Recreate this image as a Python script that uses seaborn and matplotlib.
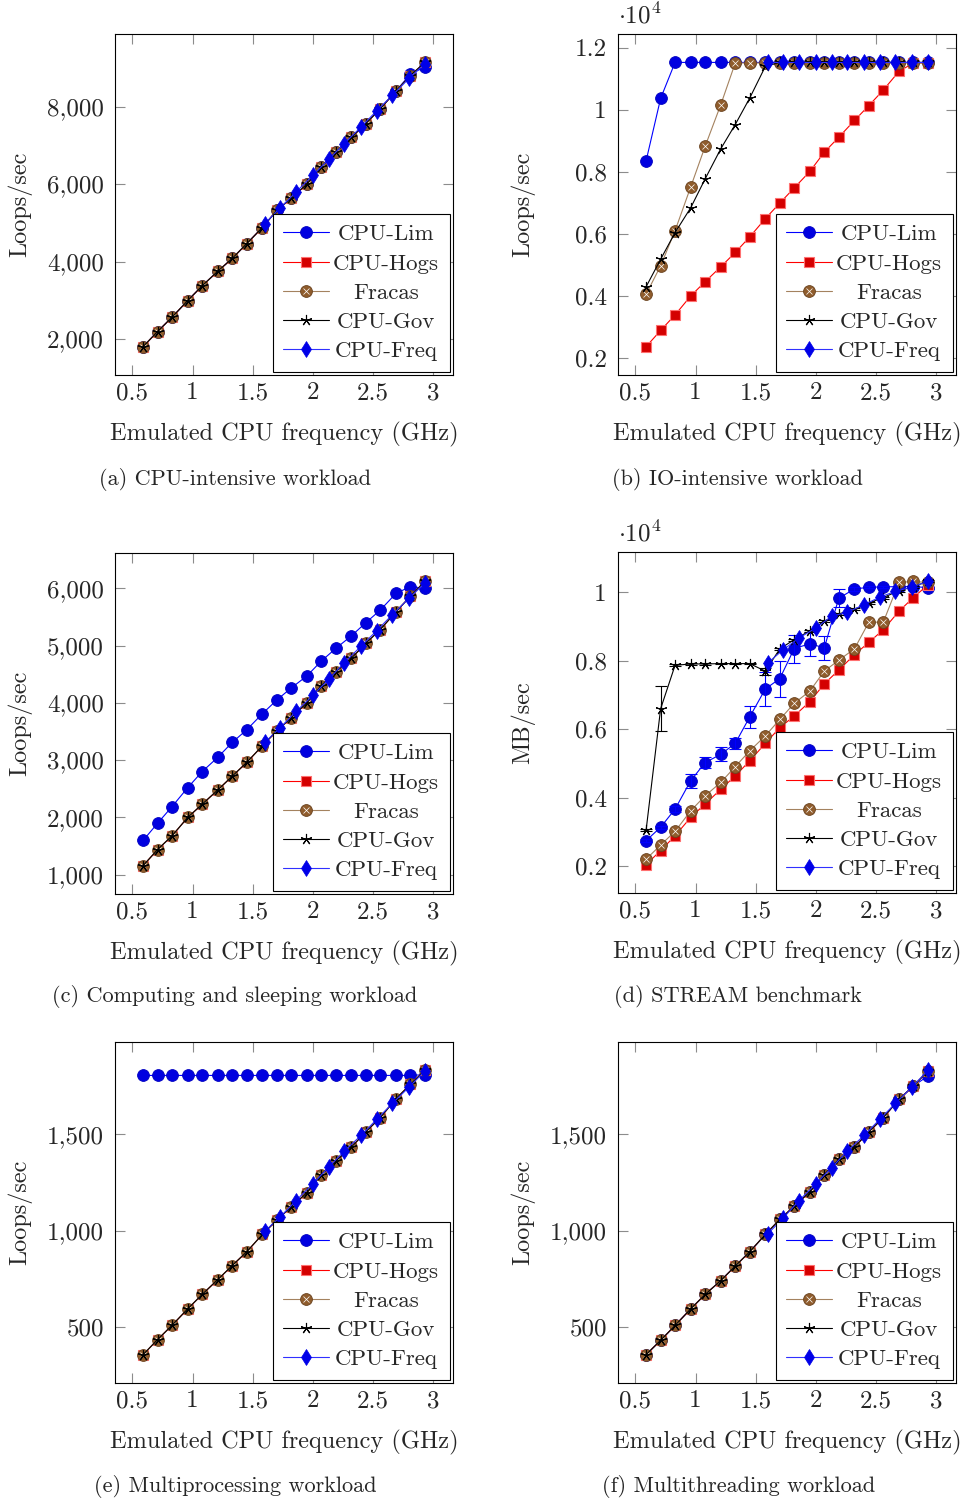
import numpy as np
import pandas as pd
import seaborn as sns
import matplotlib.pyplot as plt
from matplotlib.ticker import FuncFormatter, MultipleLocator
from matplotlib.legend_handler import HandlerTuple

sns.set_style('ticks')
plt.rcParams['font.family'] = ['cmr10', 'DejaVu Serif']
plt.rcParams['mathtext.fontset'] = 'cm'
plt.rcParams['axes.formatter.use_mathtext'] = True
plt.rcParams['axes.unicode_minus'] = False

# x positions (GHz)
freqs = [0.59, 0.71, 0.83, 0.96, 1.08, 1.21, 1.33, 1.45, 1.58, 1.70,
         1.82, 1.95, 2.07, 2.19, 2.32, 2.44, 2.56, 2.69, 2.81, 2.93]
pstates = [1.60, 1.73, 1.86, 2.00, 2.13, 2.26, 2.40, 2.53, 2.66, 2.80, 2.93]

names = ['CPU-Lim', 'CPU-Hogs', 'Fracas', 'CPU-Gov', 'CPU-Freq']

# (a) CPU-intensive
lim_a = [1800, 2190, 2560, 2990, 3370, 3750, 4080, 4460, 4880, 5320,
         5640, 6000, 6450, 6830, 7210, 7570, 7950, 8410, 8850, 9030]
hogs_a = [1800, 2190, 2560, 2990, 3370, 3750, 4080, 4460, 4880, 5320,
          5640, 6000, 6450, 6830, 7210, 7570, 7950, 8410, 8810, 9150]
fracas_a = [1800, 2190, 2560, 2990, 3370, 3750, 4080, 4460, 4880, 5320,
            5640, 6000, 6450, 6830, 7210, 7570, 7950, 8410, 8810, 9150]
gov_a = [1800, 2190, 2560, 2990, 3370, 3750, 4080, 4460, 4880, 5320,
         5640, 6000, 6450, 6830, 7210, 7570, 7950, 8410, 8810, 9150]
freq_a = [4980, 5390, 5800, 6230, 6640, 7050, 7480, 7900, 8300, 8740, 9120]

# (b) IO-intensive
lim_b = [8360, 10360, 11520, 11520, 11520, 11520, 11520, 11520, 11520, 11520,
         11520, 11520, 11520, 11520, 11520, 11520, 11520, 11520, 11520, 11520]
hogs_b = [2370, 2890, 3390, 4000, 4460, 4940, 5400, 5900, 6490, 6990,
          7480, 8010, 8630, 9110, 9650, 10130, 10630, 11230, 11500, 11500]
fracas_b = [4060, 4970, 6100, 7510, 8820, 10160, 11500, 11500, 11500, 11500,
            11500, 11500, 11500, 11500, 11500, 11500, 11500, 11500, 11500, 11500]
gov_b = [4300, 5180, 6040, 6840, 7770, 8740, 9520, 10370, 11390, 11520,
         11520, 11520, 11520, 11520, 11520, 11520, 11520, 11520, 11520, 11520]
freq_b = [11520, 11520, 11520, 11520, 11520, 11520, 11520, 11520, 11520, 11520, 11520]

# (c) computing and sleeping
lim_c = [1600, 1900, 2190, 2520, 2800, 3050, 3310, 3530, 3810, 4050,
         4260, 4470, 4730, 4950, 5170, 5400, 5620, 5910, 6030, 6000]
hogs_c = [1160, 1440, 1680, 2000, 2230, 2480, 2720, 2960, 3250, 3510,
          3740, 4000, 4300, 4540, 4780, 5040, 5280, 5590, 5860, 6120]
fracas_c = [1160, 1440, 1680, 2000, 2230, 2480, 2720, 2960, 3250, 3510,
            3740, 4000, 4300, 4540, 4780, 5040, 5280, 5590, 5860, 6120]
gov_c = [1160, 1440, 1680, 2000, 2230, 2480, 2720, 2960, 3250, 3510,
         3740, 4000, 4300, 4540, 4780, 5040, 5280, 5590, 5860, 6120]
freq_c = [3310, 3570, 3850, 4130, 4410, 4700, 4990, 5260, 5540, 5830, 6090]

# (d) STREAM
lim_d = [2750, 3140, 3670, 4500, 5030, 5270, 5590, 6360, 7180, 7480,
         8360, 8500, 8380, 9830, 10100, 10150, 10160, 10170, 10170, 10140]
lim_d_err = [50, 50, 80, 200, 150, 200, 170, 330, 490, 530,
             410, 350, 350, 260, 50, 30, 30, 30, 30, 30]
hogs_d = [2050, 2460, 2890, 3430, 3820, 4250, 4640, 5080, 5590, 6050,
          6390, 6810, 7330, 7730, 8180, 8540, 8910, 9450, 9850, 10220]
fracas_d = [2210, 2620, 3020, 3620, 4060, 4450, 4910, 5370, 5810, 6290,
            6760, 7120, 7700, 8020, 8350, 9130, 9130, 10290, 10320, 10290]
gov_d = [3070, 6600, 7870, 7910, 7910, 7920, 7920, 7920, 7700, 8350,
         8620, 8880, 9160, 9370, 9510, 9690, 9850, 10050, 10170, 10320]
gov_d_err = [30, 660, 30, 20, 20, 20, 20, 20, 100, 30,
             30, 30, 30, 30, 30, 30, 30, 30, 30, 30]
freq_d = [7940, 8330, 8670, 8960, 9300, 9420, 9640, 9860, 10030, 10160, 10320]

# (e) multiprocessing
lim_e = [1806, 1806, 1806, 1806, 1806, 1806, 1806, 1806, 1806, 1806,
         1806, 1806, 1806, 1806, 1806, 1806, 1806, 1806, 1806, 1810]
hogs_e = [358, 436, 510, 595, 670, 747, 820, 891, 981, 1055,
          1125, 1197, 1292, 1362, 1434, 1514, 1587, 1685, 1760, 1832]
fracas_e = [358, 436, 510, 595, 670, 747, 820, 891, 981, 1055,
            1125, 1197, 1292, 1362, 1434, 1514, 1587, 1685, 1760, 1832]
gov_e = [358, 436, 510, 595, 670, 747, 820, 891, 981, 1055,
         1125, 1197, 1292, 1362, 1434, 1514, 1587, 1685, 1760, 1832]
freq_e = [998, 1073, 1157, 1244, 1330, 1413, 1495, 1578, 1661, 1746, 1829]

# (f) multithreading
lim_f = [358, 432, 509, 595, 670, 742, 817, 891, 981, 1059,
         1128, 1202, 1292, 1370, 1434, 1514, 1587, 1682, 1751, 1803]
hogs_f = [358, 432, 509, 595, 670, 742, 817, 891, 981, 1059,
          1128, 1202, 1292, 1370, 1434, 1514, 1587, 1682, 1751, 1828]
fracas_f = [358, 432, 509, 595, 670, 742, 817, 891, 981, 1059,
            1128, 1202, 1292, 1370, 1434, 1514, 1587, 1682, 1751, 1828]
gov_f = [358, 432, 509, 595, 670, 742, 817, 891, 981, 1059,
         1128, 1202, 1292, 1370, 1434, 1514, 1587, 1682, 1751, 1828]
freq_f = [984, 1067, 1157, 1244, 1327, 1413, 1495, 1578, 1661, 1747, 1832]

W, H = 964, 1501
fig = plt.figure(figsize=(W / 100, H / 100), dpi=100)


def add_axes(left, top):
    return fig.add_axes([left / W, 1 - (top + 341) / H, 338 / W, 341 / H])


def draw(ax, lim, hogs, fracas, gov, freq, lim_err=None, gov_err=None):
    sns.lineplot(x=freqs, y=lim, ax=ax, color='#0000ff', linewidth=0.8,
                 marker='o', markersize=8.5, markerfacecolor='#0000e0',
                 markeredgecolor='#0000c0', markeredgewidth=0.6, legend=False)
    h1 = ax.get_lines()[-1]
    if lim_err is not None:
        ax.errorbar(freqs, lim, yerr=lim_err, fmt='none', ecolor='#0000ff',
                    elinewidth=0.8, capsize=4, capthick=0.8)
    sns.lineplot(x=freqs, y=hogs, ax=ax, color='#ff0000', linewidth=0.8,
                 marker='s', markersize=7.5, markerfacecolor='#d40000',
                 markeredgecolor='#ff7070', markeredgewidth=0.8, legend=False)
    h2 = ax.get_lines()[-1]
    sns.lineplot(x=freqs, y=fracas, ax=ax, color='#a4825f', linewidth=0.8,
                 marker='o', markersize=8.5, markerfacecolor='#8f5c2c',
                 markeredgecolor='#6a4320', markeredgewidth=0.6, legend=False)
    h3 = ax.get_lines()[-1]
    sns.lineplot(x=freqs, y=fracas, ax=ax, color='#5c3a1a', linewidth=0,
                 marker='x', markersize=5, markeredgewidth=0.5, legend=False)
    h3x = ax.get_lines()[-1]
    sns.lineplot(x=freqs, y=gov, ax=ax, color='black', linewidth=0.8,
                 marker=(5, 2, 0), markersize=8, markeredgecolor='black',
                 markeredgewidth=0.8, legend=False)
    h4 = ax.get_lines()[-1]
    if gov_err is not None:
        ax.errorbar(freqs, gov, yerr=gov_err, fmt='none', ecolor='black',
                    elinewidth=0.8, capsize=4, capthick=0.8)
    sns.lineplot(x=pstates, y=freq, ax=ax, color='#3030ff', linewidth=0.8,
                 marker='d', markersize=8, markerfacecolor='#0000e8',
                 markeredgecolor='#0000e8', markeredgewidth=0.5, legend=False)
    h5 = ax.get_lines()[-1]

    ax.margins(0.1)
    ax.set_xlabel('Emulated CPU frequency (GHz)', fontsize=17.5, va='center')
    ax.xaxis.set_label_coords(0.5, -0.175)
    ax.xaxis.set_major_locator(MultipleLocator(0.5))
    ax.xaxis.set_major_formatter(FuncFormatter(lambda v, p: f'{v:g}'))
    ax.tick_params(direction='in', top=True, right=True, length=7, width=0.8,
                   color='#8c8c8c', labelsize=18)
    ax.tick_params(axis='x', pad=5)
    ax.tick_params(axis='y', pad=8)
    for s in ax.spines.values():
        s.set_color('black')
        s.set_linewidth(0.8)
    leg = ax.legend(handles=[h1, h2, (h3, h3x), h4, h5], labels=names,
                    loc='lower right', fontsize=16.5, frameon=True,
                    fancybox=False, edgecolor='black', framealpha=1,
                    borderaxespad=0.15, handlelength=2.0, handletextpad=0.2,
                    labelspacing=0.4, borderpad=0.45,
                    handler_map={tuple: HandlerTuple(ndivide=1)})
    leg.get_frame().set_linewidth(0.8)
    return leg


panels = [
    (115, 34, (lim_a, hogs_a, fracas_a, gov_a, freq_a), 2000, False, 'Loops/sec',
     '(a) CPU-intensive workload', 235, 479),
    (618, 34, (lim_b, hogs_b, fracas_b, gov_b, freq_b), 2000, True, 'Loops/sec',
     '(b) IO-intensive workload', 738, 479),
    (115, 553, (lim_c, hogs_c, fracas_c, gov_c, freq_c), 1000, False, 'Loops/sec',
     '(c) Computing and sleeping workload', 235, 997),
    (618, 552, (lim_d, hogs_d, fracas_d, gov_d, freq_d), 2000, True, 'MB/sec',
     '(d) STREAM benchmark', 738, 997),
    (115, 1042, (lim_e, hogs_e, fracas_e, gov_e, freq_e), 500, False, 'Loops/sec',
     '(e) Multiprocessing workload', 235, 1486),
    (618, 1042, (lim_f, hogs_f, fracas_f, gov_f, freq_f), 500, False, 'Loops/sec',
     '(f) Multithreading workload', 739, 1486),
]

legends = []
for i, (left, top, series, step, scaled, ylab, cap, cx, cy) in enumerate(panels):
    ax = add_axes(left, top)
    if i == 3:
        leg = draw(ax, *series, lim_err=lim_d_err, gov_err=gov_d_err)
    else:
        leg = draw(ax, *series)
    legends.append(leg)
    ax.yaxis.set_major_locator(MultipleLocator(step))
    if scaled:
        ax.yaxis.set_major_formatter(FuncFormatter(lambda v, p: f'{v / 1e4:g}'))
        ax.text(0, 1.053, r'$\cdot10^{4}$', transform=ax.transAxes,
                fontsize=18, ha='left', va='center')
    else:
        ax.yaxis.set_major_formatter(FuncFormatter(lambda v, p: f'{v:,.0f}'))
    ax.set_ylabel(ylab, fontsize=17.5, va='center')
    ax.yaxis.set_label_coords(-0.281, 0.5)
    fig.text(cx / W, 1 - cy / H, cap, ha='center', va='center', fontsize=16)

# centre legend labels like pgfplots does
fig.canvas.draw()
r = fig.canvas.get_renderer()
for leg in legends:
    texts = leg.get_texts()
    ws = [t.get_window_extent(r).width for t in texts]
    for t, w in zip(texts, ws):
        t.set_x((max(ws) - w) / 2)

fig.savefig('out.png', dpi=100)
